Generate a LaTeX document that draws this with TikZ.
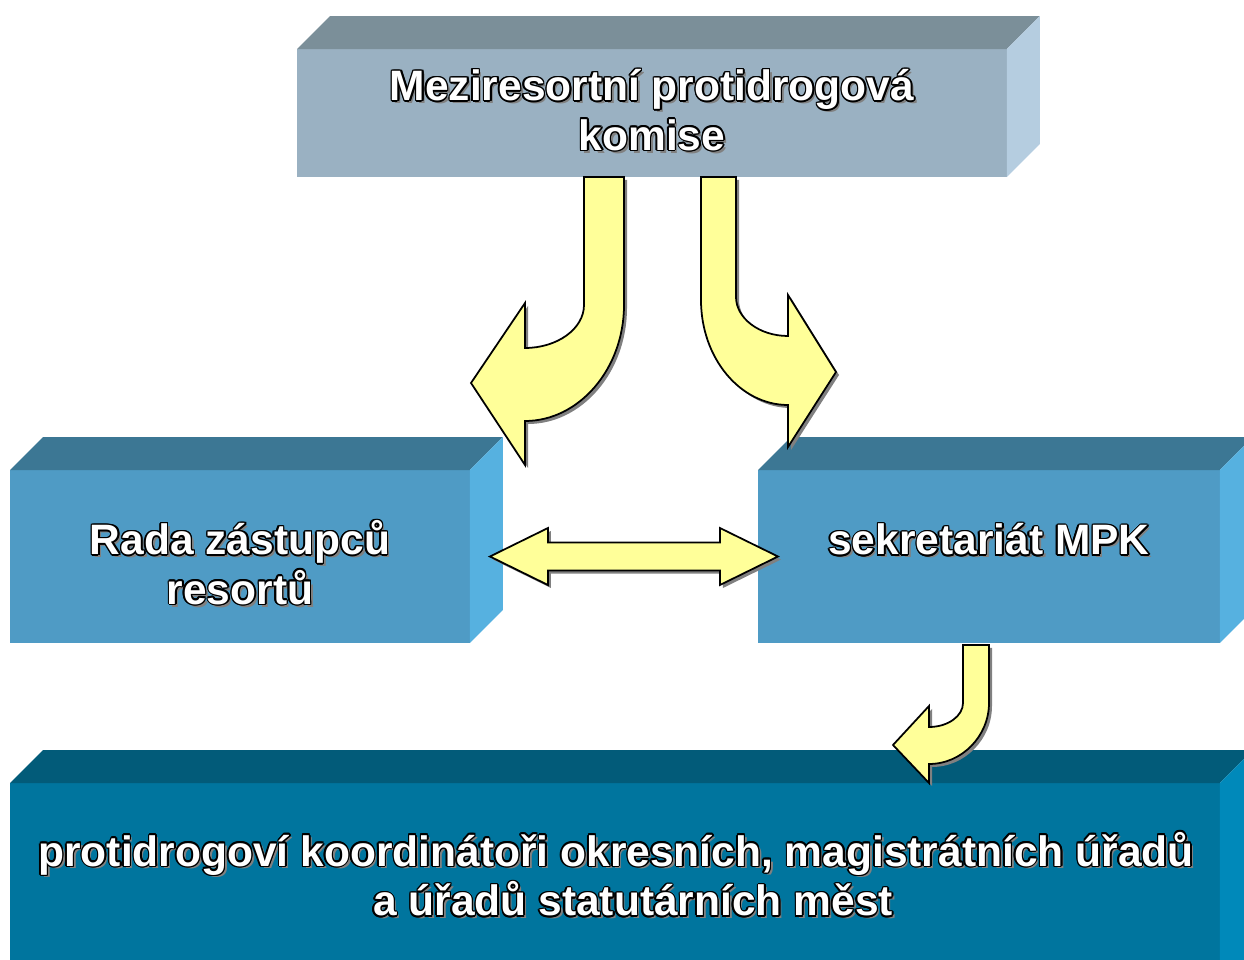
\documentclass[tikz,border=0pt]{standalone}
\usepackage{fontspec}
\setmainfont{Liberation Sans}
\usetikzlibrary{calc}

\definecolor{komtop}{HTML}{7B8F99}
\definecolor{komfront}{HTML}{9AB1C2}
\definecolor{komside}{HTML}{B5CDE0}
\definecolor{midtop}{HTML}{3C7794}
\definecolor{midfront}{HTML}{4F9BC5}
\definecolor{midside}{HTML}{56B1E0}
\definecolor{lowtop}{HTML}{025B79}
\definecolor{lowfront}{HTML}{00759E}
\definecolor{lowside}{HTML}{0089BA}
\definecolor{arrowfill}{HTML}{FFFF99}
\definecolor{shade}{HTML}{808080}

% white lettering with a black rim and a grey drop shadow
\newcommand\olt[3]{%
  \node[lbl, text=shade] at ($#2+(2.8,2.8)$) {#3};
  \foreach \a in {0,30,...,330}
    \node[lbl, text=black] at ($#2+(\a:1.5)$) {#3};
  \node[lbl, text=white] (#1) at #2 {#3};}

\begin{document}
\begin{tikzpicture}[
  x=0.02cm, y=-0.02cm,
  box/.style={inner sep=0pt, outer sep=0pt},
  lbl/.style={inner sep=0pt, align=center, font=\bfseries\fontsize{24.2}{28.3}\selectfont},
  blk/.style={fill=arrowfill, draw=black, line width=1pt,
    preaction={fill=shade, transform canvas={shift={(0.06cm,-0.06cm)}}}}
]
\useasboundingbox (0,0) rectangle (1244,960);
\clip (0,0) rectangle (1244,960);

% Boxes (front faces)
\node[box, fill=komfront, minimum width=14.2cm, minimum height=2.56cm] (kom) at (652,113) {};
\node[box, fill=midfront, minimum width=9.2cm, minimum height=3.46cm] (rada) at (240,556.5) {};
\node[box, fill=midfront, minimum width=9.24cm, minimum height=3.46cm] (sek) at (989,556.5) {};
\node[box, fill=lowfront, minimum width=24.2cm, minimum height=4.34cm] (koord) at (615,891.5) {};

% Top and side faces
\foreach \n/\ct/\cs in {kom/komtop/komside, rada/midtop/midside, sek/midtop/midside, koord/lowtop/lowside}{
  \fill[\ct] (\n.north west) -- ($(\n.north west)+(33,-33)$) -- ($(\n.north east)+(33,-33)$) -- (\n.north east) -- cycle;
  \fill[\cs] (\n.north east) -- ($(\n.north east)+(33,-33)$) -- ($(\n.south east)+(33,-33)$) -- (\n.south east) -- cycle;
}

% Labels
\olt{komT}{($(kom)+(0,-3)$)}{Meziresortní protidrogová\\komise}
\olt{radaT}{($(rada)+(0,6)$)}{Rada zástupců\\resortů}
\olt{sekT}{($(sek)+(0,-17)$)}{sekretariát MPK}
\olt{koordT}{($(koord.north)+(1,91)$)}{protidrogoví koordinátoři okresních, magistrátních úřadů\\\hspace*{0.68cm}a úřadů statutárních měst}

% kom -> rada
\begin{scope}[shift={(kom.south)}]
\draw[blk] (-68,0) -- (-68,128) .. controls (-68,152) and (-95,171) .. (-127,171)
  -- (-127,126) -- (-181,206) -- (-127,288) -- (-127,244)
  .. controls (-73,244) and (-28,192) .. (-28,128) -- (-28,0) -- cycle;
\end{scope}

% kom -> sek
\begin{scope}[shift={(kom.south)}]
\draw[blk] (49,0) -- (49,123) .. controls (49,181) and (88,228) .. (136,228)
  -- (136,270) -- (184,195) -- (136,118) -- (136,159)
  .. controls (107,159) and (84,141) .. (84,120) -- (84,0) -- cycle;
\end{scope}

% rada <-> sek
\begin{scope}[shift={(rada.east)}]
\draw[blk] (20,0) -- (78,-28.5) -- (78,-14) -- (250,-14) -- (250,-28.5) -- (308,0)
  -- (250,28.5) -- (250,14) -- (78,14) -- (78,28.5) -- cycle;
\end{scope}

% sek -> koord
\begin{scope}[shift={(sek.south)}]
\draw[blk] (-26,2) -- (-26,60) .. controls (-26,73) and (-41,84) .. (-60,84)
  -- (-60,63) -- (-96,102) -- (-60,140) -- (-60,121)
  .. controls (-27,121) and (0,93) .. (0,60) -- (0,2) -- cycle;
\end{scope}

\end{tikzpicture}
\end{document}
